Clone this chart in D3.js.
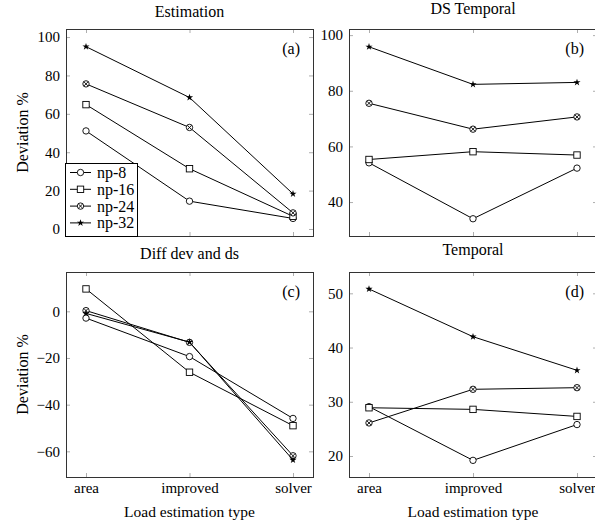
<!DOCTYPE html>
<html>
<head>
<meta charset="utf-8">
<script src="https://cdn.jsdelivr.net/npm/d3@7"></script>
<style>
  body { margin: 0; background: #fff; }
  svg { display: block; }
</style>
</head>
<body>
<svg id="chart" width="595" height="524"></svg>
<script>
// values, one array per series (area, improved, solver)
const categories = ["area", "improved", "solver"];
const seriesNames = ["np-8", "np-16", "np-24", "np-32"];
const markerTypes = ["circle", "square", "otimes", "star"];

const estimation = [[51.1, 14.5, 5.5], [64.8, 31.4, 6.6], [75.6, 52.9, 8.4], [95.0, 68.5, 18.3]];
const dsTemporal = [[54.1, 34.0, 52.2], [55.3, 58.1, 56.9], [75.5, 66.2, 70.6], [95.8, 82.3, 83.0]];
const diffDevDs = [[-2.9, -19.4, -45.9], [9.6, -26.1, -49.0], [0.3, -13.3, -61.9], [-0.9, -13.2, -63.7]];
const temporal = [[29.1, 19.2, 25.8], [28.9, 28.6, 27.3], [26.1, 32.3, 32.6], [50.8, 42.0, 35.8]];

const ticksEst = [0, 20, 40, 60, 80, 100];
const ticksDs = [40, 60, 80, 100];
const ticksDiff = [-60, -40, -20, 0];
const ticksTemp = [20, 30, 40, 50];

const FS = 15, FS_WORD = 16;
const SERIF = '"Liberation Serif", "DejaVu Serif", "Times New Roman", serif';
const svg = d3.select("#chart");

const panels = [
  { title: "Estimation", tag: "(a)", data: estimation, domain: [-3.65, 104.2], ticks: ticksEst,
    box: [66, 29, 313, 236], titleY: 16.5, xLabels: false, yLabel: true, legend: true },
  { title: "DS Temporal", tag: "(b)", data: dsTemporal, domain: [27.8, 102.2], ticks: ticksDs,
    box: [349, 29, 597, 236], titleY: 13.5, xLabels: false, yLabel: false },
  { title: "Diff dev and ds", tag: "(c)", data: diffDevDs, domain: [-71.0, 16.85], ticks: ticksDiff,
    box: [66, 272, 313, 477], titleY: 258.5, xLabels: true, yLabel: true },
  { title: "Temporal", tag: "(d)", data: temporal, domain: [16.13, 53.93], ticks: ticksTemp,
    box: [349, 272, 597, 477], titleY: 254.5, xLabels: true, yLabel: false },
];

function marker(g, type, cx, cy) {
  if (type === "circle") {
    g.append("circle").attr("cx", cx).attr("cy", cy).attr("r", 3.2)
      .attr("fill", "#fff").attr("stroke", "#000").attr("stroke-width", 0.9);
  } else if (type === "square") {
    g.append("rect").attr("x", cx - 3.2).attr("y", cy - 3.2).attr("width", 6.4).attr("height", 6.4)
      .attr("fill", "#fff").attr("stroke", "#000").attr("stroke-width", 0.9);
  } else if (type === "otimes") {
    g.append("circle").attr("cx", cx).attr("cy", cy).attr("r", 3.2)
      .attr("fill", "#fff").attr("stroke", "#000").attr("stroke-width", 0.9);
    const k = 2.1;
    g.append("path")
      .attr("d", `M${cx - k},${cy - k}L${cx + k},${cy + k}M${cx - k},${cy + k}L${cx + k},${cy - k}`)
      .attr("stroke", "#000").attr("stroke-width", 0.9);
  } else {
    g.append("path").attr("transform", `translate(${cx},${cy})`)
      .attr("d", d3.symbol(d3.symbolStar, 16)()).attr("fill", "#000");
  }
}

const tickCol = "#999";

panels.forEach(p => {
  const [x0, y0, x1, y1] = p.box;
  const x = d3.scalePoint().domain(categories).range([x0 + 20, x1 - 20]);
  const y = d3.scaleLinear().domain(p.domain).range([y1, y0]);
  const g = svg.append("g");

  // ── axes (ticks inward on all four sides) ──
  const left = g.append("g").attr("transform", `translate(${x0},0)`)
    .call(d3.axisLeft(y).tickValues(p.ticks).tickSizeInner(-4).tickSizeOuter(0).tickPadding(6));
  const right = g.append("g").attr("transform", `translate(${x1},0)`)
    .call(d3.axisRight(y).tickValues(p.ticks).tickSizeInner(-4).tickSizeOuter(0).tickFormat(""));
  const top = g.append("g").attr("transform", `translate(0,${y0})`)
    .call(d3.axisTop(x).tickSizeInner(-4).tickSizeOuter(0).tickFormat(""));
  const bottom = g.append("g").attr("transform", `translate(0,${y1})`)
    .call(d3.axisBottom(x).tickSizeInner(-4).tickSizeOuter(0).tickPadding(5)
      .tickFormat(p.xLabels ? (d => d) : ""));
  [left, right, top, bottom].forEach(a => {
    a.attr("font-family", null);
    a.select(".domain").remove();
    a.selectAll(".tick line").attr("stroke", tickCol).attr("stroke-width", 0.8);
    a.selectAll("text").attr("font-size", FS).attr("fill", "#000");
  });

  g.append("rect")
    .attr("x", x0 + 0.5).attr("y", y0 + 0.5).attr("width", x1 - x0).attr("height", y1 - y0)
    .attr("fill", "none").attr("stroke", "#333").attr("stroke-width", 1);

  // ── titles / tags / labels ──
  g.append("text").attr("x", (x0 + x1) / 2).attr("y", p.titleY).attr("text-anchor", "middle")
    .attr("font-size", FS_WORD).text(p.title);
  g.append("text").attr("x", x1 - 13).attr("y", y0 + 25).attr("text-anchor", "end")
    .attr("font-size", FS_WORD).text(p.tag);
  if (p.yLabel) {
    g.append("text").attr("transform", `translate(27.5,${(y0 + y1) / 2}) rotate(-90)`)
      .attr("text-anchor", "middle").attr("font-size", FS_WORD).text("Deviation %");
  }
  if (p.xLabels) {
    g.append("text").attr("x", (x0 + x1) / 2).attr("y", 517).attr("text-anchor", "middle")
      .attr("font-size", 15.5).text("Load estimation type");
  }

  // ── series ──
  const line = d3.line().x((d, i) => x(categories[i])).y(d => y(d));
  p.data.forEach((vals, si) => {
    g.append("path").attr("d", line(vals)).attr("fill", "none")
      .attr("stroke", "#000").attr("stroke-width", 1);
    vals.forEach((v, i) => marker(g, markerTypes[si], x(categories[i]), y(v)));
  });

  // ── legend ──
  if (p.legend) {
    const lg = g.append("g");
    lg.append("rect").attr("x", x0 - 0.5).attr("y", 163.5).attr("width", 72).attr("height", y1 - 163)
      .attr("fill", "#fff").attr("stroke", "#000").attr("stroke-width", 1);
    seriesNames.forEach((name, i) => {
      const cy = 172.5 + i * 16.8;
      lg.append("line").attr("x1", x0 + 4).attr("x2", x0 + 25).attr("y1", cy).attr("y2", cy)
        .attr("stroke", "#000").attr("stroke-width", 1);
      marker(lg, markerTypes[i], x0 + 14.5, cy);
      lg.append("text").attr("x", x0 + 31).attr("y", cy + 5.5).attr("font-size", FS_WORD).text(name);
    });
  }
});

svg.selectAll("text").style("font-family", SERIF);
</script>
</body>
</html>
